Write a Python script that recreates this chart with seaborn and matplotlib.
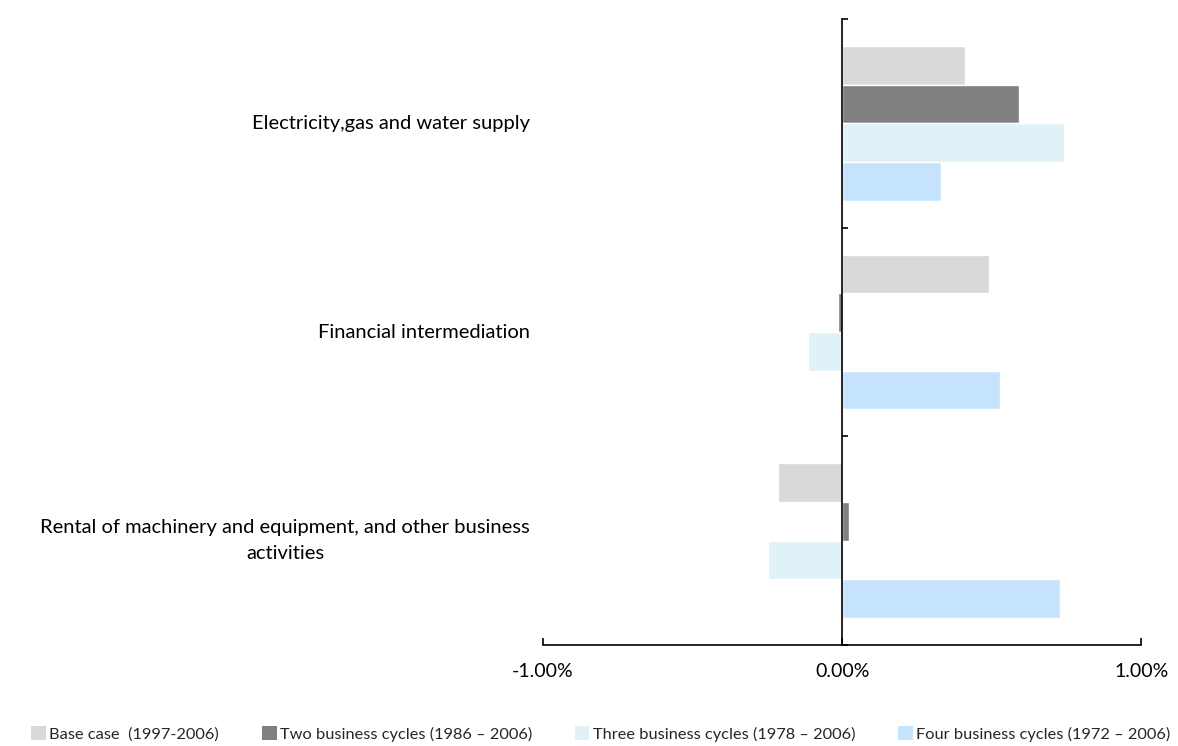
import matplotlib
matplotlib.use("Agg")
import matplotlib.pyplot as plt
import matplotlib.patches as mpatches
from matplotlib.ticker import FuncFormatter
import seaborn as sns
import pandas as pd

categories = [
    "Electricity,gas and water supply",
    "Financial intermediation",
    "Rental of machinery and equipment, and other business\nactivities",
]
series = [
    "Base case  (1997-2006)",
    "Two business cycles (1986 \u2013 2006)",
    "Three business cycles (1978 \u2013 2006)",
    "Four business cycles (1972 \u2013 2006)",
]
# growth contributions in percent, one list per series (same order as categories)
base_case = [0.41, 0.49, -0.215]
two_cycles = [0.59, -0.013, 0.021]
three_cycles = [0.74, -0.116, -0.248]
four_cycles = [0.33, 0.527, 0.728]
colors = ["#D9D9D9", "#808080", "#E0F2F8", "#C6E3FE"]

values = [base_case, two_cycles, three_cycles, four_cycles]
df = pd.DataFrame(
    [(c, s, v) for s, vals in zip(series, values) for c, v in zip(categories, vals)],
    columns=["category", "series", "value"],
)

sns.set_theme(style="white")
plt.rcParams["font.family"] = ["Lato", "DejaVu Sans"]

fig = plt.figure(figsize=(11.78, 7.46), dpi=100)
ax = fig.add_axes([0.461, 0.1354, 0.508, 0.8391])

sns.barplot(
    data=df, y="category", x="value", hue="series", order=categories,
    hue_order=series, palette=colors, orient="h", width=0.74,
    saturation=1, errorbar=None, ax=ax, legend=False,
)

ax.set_xlim(-1.0, 1.0)
ax.set_ylim(2.5, -0.5)
ax.set_xticks([-1.0, 0.0, 1.0])
ax.xaxis.set_major_formatter(FuncFormatter(lambda x, _: f"{x:.2f}%"))
ax.set_yticks([-0.5, 0.5, 1.5, 2.5])
ax.set_yticklabels([])
ax.set_xlabel("")
ax.set_ylabel("")

ax.spines["left"].set_position(("data", 0))
ax.spines["top"].set_visible(False)
ax.spines["right"].set_visible(False)
for sp in ("left", "bottom"):
    ax.spines[sp].set_color("black")
    ax.spines[sp].set_linewidth(1.2)

ax.tick_params(axis="x", direction="in", length=5, width=1.2, color="black",
               pad=13, labelsize=14, labelcolor="black", bottom=True)
ax.tick_params(axis="y", direction="in", length=4, width=1.2, color="black",
               left=True)

# category labels sit to the left of the plot area
trans = ax.get_yaxis_transform()
for i, cat in enumerate(categories):
    ax.text(-0.022, i, cat, transform=trans, ha="right", va="center",
            multialignment="center", fontsize=14.5, color="black",
            linespacing=1.65)

handles = [mpatches.Patch(facecolor=c, edgecolor="none") for c in colors]
fig.legend(handles, series, loc="lower center", bbox_to_anchor=(0.51, -0.014),
           ncol=4, frameon=False, fontsize=11.8, handlelength=0.9,
           handleheight=0.9, handletextpad=0.2, columnspacing=2.6)

fig.savefig("out.png", dpi=100, facecolor="white")
